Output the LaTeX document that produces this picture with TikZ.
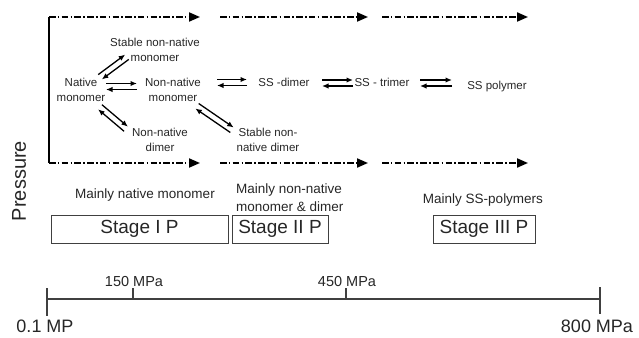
\documentclass[tikz,border=0pt]{standalone}
\usepackage{fontspec}
\setmainfont{Liberation Sans}
\usetikzlibrary{arrows.meta,calc}
\newcommand\fs[1]{\fontsize{#1}{#1}\selectfont}
\newcommand\eqarr[2]{%
  \draw[eqline,-{Latex[length=6.5pt,width=5.5pt]}] ($(#1)!3pt!90:(#2)$) -- ($(#2)!3pt!-90:(#1)$);
  \draw[eqline,-{Latex[length=6.5pt,width=5.5pt]}] ($(#2)!3pt!90:(#1)$) -- ($(#1)!3pt!-90:(#2)$);}
\begin{document}
\begin{tikzpicture}[x=1pt,y=-1pt,
  lbl/.style={inner sep=0pt,align=center,text=black!85,font=\fontsize{11.5}{14.5}\selectfont},
  mlbl/.style={inner sep=0pt,text=black!85,font=\fontsize{13.5}{18.5}\selectfont},
  stagebox/.style={draw=black!75,line width=1pt,inner sep=0pt,text=black!85,font=\fs{19}},
  dd/.style={line width=2pt,dash pattern=on 6.5pt off 2.3pt on 1.6pt off 2.3pt,-{Triangle[length=11pt,width=9pt]}},
  eqline/.style={line width=1.3pt},
  axisline/.style={line width=1.2pt,black!75}]
\useasboundingbox (0,0) rectangle (639,337);
% frame and dash-dot arrows
\coordinate (tl) at (49,17);
\coordinate (bl) at (49,163);
\coordinate (t1) at (200,17); \coordinate (t2s) at (220,17); \coordinate (t2) at (368,17);
\coordinate (t3s) at (382,17); \coordinate (t3) at (528,17);
\coordinate (b1) at (200,163); \coordinate (b2s) at (220,163); \coordinate (b2) at (368,163);
\coordinate (b3s) at (382,163); \coordinate (b3) at (528,163);
\draw[line width=2pt] (tl) -- (bl);
\draw[dd] (tl) -- (t1);
\draw[dd] (t2s) -- (t2);
\draw[dd] (t3s) -- (t3);
\draw[dd] (bl) -- (b1);
\draw[dd] (b2s) -- (b2);
\draw[dd] (b3s) -- (b3);
% species
\node[lbl] (snm) at (155,50) {Stable non-native\\monomer};
\node[lbl] (nat) at (81,90) {Native\\monomer};
\node[lbl] (nnm) at (173,90) {Non-native\\monomer};
\node[lbl] (nnd) at (160,140) {Non-native\\dimer};
\node[lbl] (snd) at (268,140) {Stable non-\\native dimer};
\node[lbl] (ssd) at (284,82) {SS -dimer};
\node[lbl] (sst) at (382,82) {SS - trimer};
\node[lbl] (ssp) at (497,87) {SS polymer};
% equilibrium arrows
\coordinate (e1a) at (106,86.5); \coordinate (e1b) at (137,86.5);
\coordinate (e2a) at (217,82.5); \coordinate (e2b) at (247,82.5);
\coordinate (e3a) at (322,83); \coordinate (e3b) at (353,83);
\coordinate (e4a) at (420,83); \coordinate (e4b) at (452,83);
\coordinate (d1a) at (100,77); \coordinate (d1b) at (127,57);
\coordinate (d2a) at (100,107); \coordinate (d2b) at (126,129);
\coordinate (d3a) at (197,106); \coordinate (d3b) at (232,130);
\eqarr{e1a}{e1b}
\eqarr{e2a}{e2b}
\eqarr{e3a}{e3b}
\eqarr{e4a}{e4b}
\eqarr{d1a}{d1b}
\eqarr{d2b}{d2a}
\eqarr{d3b}{d3a}
% pressure label
\node[rotate=90,inner sep=0pt,text=black!85,font=\fs{20}] (pres) at (19,181) {Pressure};
% stage descriptions
\node[mlbl] (m1) at (145,195) {Mainly native monomer};
\node[mlbl,anchor=west,align=left] (m2) at (236,197.5) {Mainly non-native\\monomer \& dimer};
\node[mlbl] (m3) at (483,200) {Mainly SS-polymers};
\node[stagebox,minimum width=177pt,minimum height=28pt] (s1) at (139.5,229) {Stage I P};
\node[stagebox,minimum width=96pt,minimum height=28pt] (s2) at (280,229) {Stage II P};
\node[stagebox,minimum width=102pt,minimum height=28pt] (s3) at (484,229) {Stage III P};
% pressure axis
\coordinate (ax0) at (47,299); \coordinate (ax1) at (600,299);
\coordinate (k0a) at (47,288); \coordinate (k0b) at (47,316);
\coordinate (k3a) at (600,287); \coordinate (k3b) at (600,314);
\coordinate (k1a) at (133,288); \coordinate (k1b) at (133,299);
\coordinate (k2a) at (346,288); \coordinate (k2b) at (346,299);
\draw[axisline] (ax0) -- (ax1);
\draw[axisline] (k0a) -- (k0b);
\draw[axisline] (k3a) -- (k3b);
\draw[axisline] (k1a) -- (k1b);
\draw[axisline] (k2a) -- (k2b);
\node[inner sep=0pt,text=black!85,font=\fs{14.5}] (l150) at (134,282) {150 MPa};
\node[inner sep=0pt,text=black!85,font=\fs{14.5}] (l450) at (347,282) {450 MPa};
\node[inner sep=0pt,text=black!85,font=\fs{18},anchor=base] (l01) at (45,332) {0.1 MP};
\node[inner sep=0pt,text=black!85,font=\fs{18},anchor=base] (l800) at (597,332) {800 MPa};
\end{tikzpicture}
\end{document}
